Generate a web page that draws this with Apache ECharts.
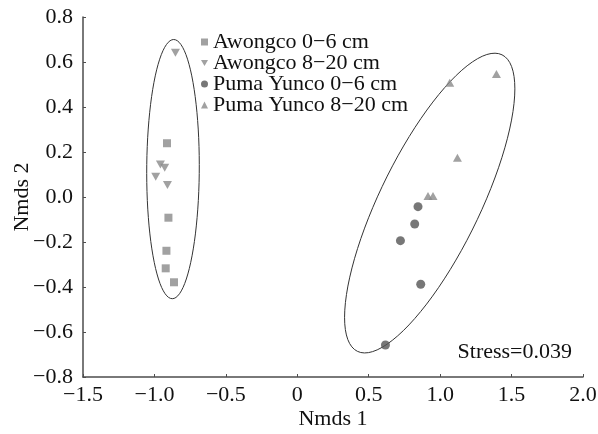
<!DOCTYPE html>
<html>
<head>
<meta charset="utf-8">
<script src="https://cdn.jsdelivr.net/npm/echarts@6/dist/echarts.min.js"></script>
<style>
  html, body { margin: 0; padding: 0; background: #fff; }
  #chart { width: 598px; height: 434px; }
</style>
</head>
<body>
<div id="chart"></div>
<script>
// NMDS scores
const seriesNames = ['Awongco 0\u22126 cm', 'Awongco 8\u221220 cm', 'Puma Yunco 0\u22126 cm', 'Puma Yunco 8\u221220 cm']
const awongco06 = [[-0.912, 0.239], [-0.902, -0.092], [-0.916, -0.239], [-0.921, -0.317], [-0.863, -0.379]]
const awongco820 = [[-0.853, 0.641], [-0.958, 0.145], [-0.928, 0.130], [-0.991, 0.090], [-0.909, 0.053]]
const puma06 = [[0.845, -0.043], [0.822, -0.120], [0.722, -0.194], [0.864, -0.388], [0.617, -0.658]]
const puma820 = [[1.067, 0.508], [1.394, 0.547], [1.121, 0.175], [0.915, 0.004], [0.950, 0.004]]
// ellipses: centre x, centre y, half-axis 1 (x, y), half-axis 2 (x, y), data units
const ellipses = [
  [-0.870, 0.124, 0.005, 0.576, 0.184, 0],
  [0.927, -0.027, 0.506, 0.659, 0.315, -0.097],
]
const xTicks = [-1.5, 2.0, 0.5]
const yTicks = [-0.8, 0.8, 0.2]
const stressText = 'Stress=0.039'

const font = 'Liberation Serif'
const fs = 22
const minus = (s) => s.replace('-', '\u2212')
const downTri = 'path://M0,0 L10,0 L5,8.6 Z'

const chart = echarts.init(document.getElementById('chart'))

chart.setOption({
  animation: false,
  grid: { left: 83, right: 15, top: 17, bottom: 57, outerBoundsMode: 'none' },
  legend: {
    data: seriesNames,
    orient: 'vertical',
    left: 201,
    top: 31,
    padding: 0,
    itemWidth: 7,
    itemHeight: 7,
    itemGap: -1,
    textStyle: { fontFamily: font, fontSize: fs, color: '#111', lineHeight: 20.5 },
  },
  graphic: [{
    type: 'text',
    right: 26,
    top: 341,
    style: { text: stressText, fontFamily: font, fontSize: fs, fill: '#111' },
  }],
  xAxis: {
    type: 'value',
    min: xTicks[0],
    max: xTicks[1],
    interval: xTicks[2],
    name: 'Nmds 1',
    nameLocation: 'middle',
    nameGap: 31,
    nameMoveOverlap: false,
    nameTextStyle: { fontFamily: font, fontSize: fs, color: '#111' },
    axisLine: { onZero: false, lineStyle: { color: '#4d4d4d', width: 1.5 } },
    axisTick: { inside: true, length: 3, lineStyle: { color: '#4d4d4d' } },
    axisLabel: {
      margin: 7,
      fontFamily: font,
      fontSize: fs,
      color: '#111',
      formatter: (v) => (v === 0 ? '0' : minus(v.toFixed(1))),
    },
    splitLine: { show: false },
  },
  yAxis: {
    type: 'value',
    min: yTicks[0],
    max: yTicks[1],
    interval: yTicks[2],
    name: 'Nmds 2',
    nameLocation: 'middle',
    nameGap: 50,
    nameMoveOverlap: false,
    nameTextStyle: { fontFamily: font, fontSize: fs, color: '#111' },
    axisLine: { show: true, onZero: false, lineStyle: { color: '#4d4d4d', width: 1.5 } },
    axisTick: { show: true, inside: true, length: 3, lineStyle: { color: '#4d4d4d' } },
    axisLabel: {
      margin: 10,
      fontFamily: font,
      fontSize: fs,
      color: '#111',
      formatter: (v) => minus(v.toFixed(1)),
    },
    splitLine: { show: false },
  },
  series: [
    {
      type: 'custom',
      silent: true,
      clip: false,
      data: ellipses,
      encode: { x: 0, y: 1 },
      renderItem: (params, api) => {
        const cx = api.value(0), cy = api.value(1)
        const ux = api.value(2), uy = api.value(3)
        const vx = api.value(4), vy = api.value(5)
        const pts = []
        for (let i = 0; i < 90; i++) {
          const t = (i / 90) * Math.PI * 2
          pts.push(api.coord([cx + ux * Math.cos(t) + vx * Math.sin(t), cy + uy * Math.cos(t) + vy * Math.sin(t)]))
        }
        return {
          type: 'polygon',
          shape: { points: pts },
          style: { fill: 'none', stroke: '#333', lineWidth: 1 },
        }
      },
      z: 1,
    },
    {
      name: seriesNames[0],
      type: 'scatter',
      symbol: 'rect',
      symbolSize: 8,
      itemStyle: { color: '#8a8a8a' },
      data: awongco06,
      z: 3,
    },
    {
      name: seriesNames[1],
      type: 'scatter',
      symbol: downTri,
      symbolSize: [9, 8],
      itemStyle: { color: '#8a8a8a' },
      data: awongco820,
      z: 3,
    },
    {
      name: seriesNames[2],
      type: 'scatter',
      symbol: 'circle',
      symbolSize: 9,
      itemStyle: { color: '#555' },
      data: puma06,
      z: 3,
    },
    {
      name: seriesNames[3],
      type: 'scatter',
      symbol: 'triangle',
      symbolSize: [9, 8],
      itemStyle: { color: '#8a8a8a' },
      data: puma820,
      z: 3,
    },
  ],
})
</script>
</body>
</html>
